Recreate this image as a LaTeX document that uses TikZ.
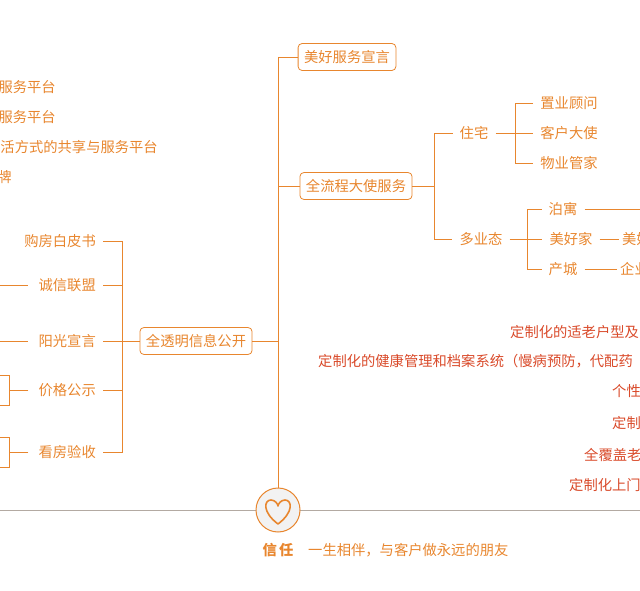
\documentclass[tikz,border=0pt]{standalone}
\usepackage{fontspec}
\setmainfont{Noto Sans CJK SC}
\definecolor{org}{HTML}{E8862E}
\definecolor{redt}{HTML}{D94A2A}
\definecolor{gline}{HTML}{B3AAA2}
\begin{document}
\begin{tikzpicture}[x=1pt,y=-1pt,
  every node/.style={font=\fontsize{14.3}{16}\selectfont,text=org,inner sep=0pt},
  box/.style={draw=org,rounded corners=4pt,line width=0.8pt,minimum height=27pt,inner xsep=6pt,fill=white},
  ln/.style={draw=org,line width=0.8pt},
  rt/.style={text=redt,anchor=west}]
\useasboundingbox (0,0) rectangle (640,591);
\clip (0,0) rectangle (640,591);
% axis
\draw[gline,line width=1pt] (0,510) -- (640,510);
\coordinate (top) at (278,57);
\node[circle,draw=org,line width=1pt,fill=black!5,minimum size=44pt] (c) at (278,510) {};
\draw[org,line width=1.6pt,line join=round] (278,524) .. controls (262,512) and (264,500) .. (271,500) .. controls (275,500) and (278,504) .. (278,506) .. controls (278,504) and (281,500) .. (285,500) .. controls (292,500) and (294,512) .. (278,524) -- cycle;
\draw[ln] (top) -- (c.north);
\node[font=\fontsize{14.3}{16}\selectfont\bfseries] (xr) at (278,550) {信\,任};
\node[anchor=west] (sl) at (308,550) {一生相伴，与客户做永远的朋友};
% top branches
\node[box] (b1) at (347,57) {美好服务宣言};
\node[box] (b2) at (356,186) {全流程大使服务};
\node[box] (b3) at (196,341) {全透明信息公开};
\draw[ln] (b1.west) -- (278,57);
\draw[ln] (b2.west) -- (278,186);
\draw[ln] (b3.east) -- (278,341);
% residential
\node (zz) at (474,133) {住宅};
\node (dy) at (481,239) {多业态};
\draw[ln] (b2.east) -- (434,186);
\draw[ln] (zz.west) ++(-7,0) -- (434,133) -- (434,239) -- ([xshift=-7pt]dy.west);
\node (z1) at (569,103) {置业顾问};
\node (z2) at (569,133) {客户大使};
\node (z3) at (569,163) {物业管家};
\draw[ln] ([xshift=7pt]zz.east) -- ([xshift=-7pt]z2.west);
\draw[ln] ([xshift=-7pt]z1.west) -- (515,103) -- (515,163) -- ([xshift=-7pt]z3.west);
\node (d1) at (563,209) {泊寓};
\node (d2) at (571,239) {美好家};
\node (d3) at (563,269) {产城};
\draw[ln] ([xshift=7pt]dy.east) -- ([xshift=-7pt]d2.west);
\draw[ln] ([xshift=-7pt]d1.west) -- (527,209) -- (527,269) -- ([xshift=-7pt]d3.west);
\coordinate (e1) at (640,209);
\draw[ln] ([xshift=7pt]d1.east) -- (e1);
\node[anchor=west] (d2a) at (622,239) {美好};
\node[anchor=west] (d3a) at (620,269) {企业};
\draw[ln] ([xshift=7pt]d2.east) -- ([xshift=-3pt]d2a.west);
\draw[ln] ([xshift=7pt]d3.east) -- ([xshift=-3pt]d3a.west);
% left
\node[anchor=east] (l1) at (96,241) {购房白皮书};
\node[anchor=east] (l2) at (96,285) {诚信联盟};
\node[anchor=east] (l3) at (96,341) {阳光宣言};
\node[anchor=east] (l4) at (96,390) {价格公示};
\node[anchor=east] (l5) at (96,452) {看房验收};
\draw[ln] (b3.west) -- (122,341);
\draw[ln] ([xshift=7pt]l1.east) -- (122,241) -- (122,452) -- ([xshift=7pt]l5.east);
\foreach \n in {l2,l3,l4} \draw[ln] ([xshift=7pt]\n.east) -- (122,0 |- \n.east);
\coordinate (f2) at (0,285); \coordinate (f3) at (0,341);
\draw[ln] (f2) -- ([xshift=-10pt]l2.west);
\draw[ln] (f3) -- ([xshift=-10pt]l3.west);
\draw[ln] ([xshift=-10pt]l4.west) -- (9,390);
\draw[ln] (0,375) -- (9,375) -- (9,405) -- (0,405);
\draw[ln] ([xshift=-10pt]l5.west) -- (9,452);
\draw[ln] (0,437) -- (9,437) -- (9,467) -- (0,467);
% clipped left texts
\node[anchor=east] (t1) at (56,87) {服务平台};
\node[anchor=east] (t2) at (56,117) {服务平台};
\node[anchor=east] (t3) at (158,147) {活方式的共享与服务平台};
\node[anchor=east] (t4) at (12,177) {牌};
% red texts
\node[rt] (r1) at (510,332) {定制化的适老户型及};
\node[rt] (r2) at (318,361) {定制化的健康管理和档案系统（慢病预防，代配药};
\node[rt] (r3) at (612,391) {个性};
\node[rt] (r4) at (612,423) {定制};
\node[rt] (r5) at (584,455) {全覆盖老};
\node[rt] (r6) at (569,485) {定制化上门};
\end{tikzpicture}
\end{document}
